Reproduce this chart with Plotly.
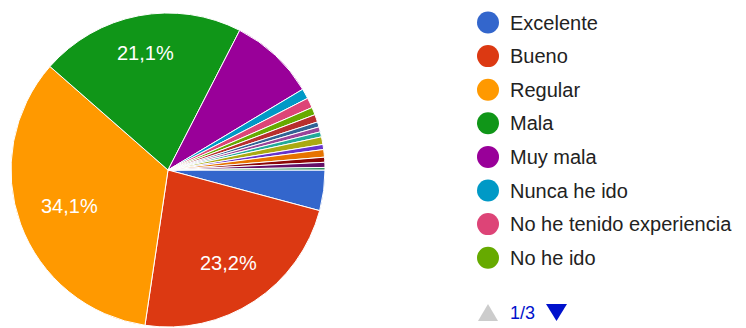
import math
import plotly.graph_objects as go

# Responses per answer (384 in total)
labels = [
    "Excelente", "Bueno", "Regular", "Mala", "Muy mala",
    "Nunca he ido", "No he tenido experiencia", "No he ido",
    "No sé", "No he asistido", "Nunca", "No lo conozco", "Ninguna",
    "No aplica", "No he ido nunca", "No la he usado", "No tengo opinión", "No asisto",
]
counts = [16, 89, 131, 81, 34, 4, 4, 3, 3, 2, 2, 2, 3, 2, 3, 2, 2, 1]
colors = [
    "#3366cc", "#dc3912", "#ff9900", "#109618", "#990099", "#0099c6", "#dd4477",
    "#66aa00", "#b82e2e", "#316395", "#994499", "#22aa99", "#aaaa11", "#6633cc",
    "#e67300", "#8b0707", "#651067", "#329262",
]
page_size = 8
page_label = "1/3"

W, H = 746, 328
FONT = "Liberation Sans, Arial, sans-serif"
LABEL_SIZE = 20

total = sum(counts)
pct = [c / total * 100 for c in counts]

# Pie placement in pixels; first slice starts at 3 o'clock, going clockwise
cx, cy, r = 168, 170, 157
start_deg = 0.0

fig = go.Figure(go.Pie(
    labels=labels,
    values=counts,
    textinfo="none",
    marker=dict(colors=colors, line=dict(color="white", width=1)),
    sort=False,
    direction="clockwise",
    rotation=90,
    showlegend=False,
    domain=dict(x=[(cx - r) / W, (cx + r) / W], y=[1 - (cy + r) / H, 1 - (cy - r) / H]),
))


def px_x(x):
    return x / W


def px_y(y):
    return 1 - y / H


# Approximate Arial advance widths (em) for the label characters
CHAR_EM = {",": 0.278, "%": 0.889, ".": 0.278}


def text_width(s, size):
    return sum(CHAR_EM.get(ch, 0.556) for ch in s) * size


shapes = []
annotations = []

# Percentage labels: placed on the slice's mid-angle ray so that the
# outermost corner of the label box sits at a fixed fraction of the radius
corner_r = 0.866 * r
cum = 0
for c, p in zip(counts, pct):
    mid = start_deg + (cum + c / 2) / total * 360
    cum += c
    if p < 15:
        continue
    txt = f"{p:.1f}".replace(".", ",") + "%"
    w = text_width(txt, LABEL_SIZE) + 2
    h = 0.9 * LABEL_SIZE
    ca, sa = math.cos(math.radians(mid)), math.sin(math.radians(mid))
    b = w * abs(ca) + h * abs(sa)
    k = (w * w + h * h) / 4 - corner_r ** 2
    t = (-b + math.sqrt(b * b - 4 * k)) / 2
    tx, ty = cx + t * ca, cy + t * sa
    annotations.append(dict(
        text=txt, xref="paper", yref="paper",
        x=px_x(tx), y=px_y(ty), xanchor="center", yanchor="middle",
        showarrow=False, font=dict(family=FONT, size=LABEL_SIZE, color="white"),
    ))

# Legend, first page
row0, row_step = 22.5, 33.6
dot_x, dot_r, text_x = 488, 11, 508
for i in range(page_size):
    yc = row0 + i * row_step
    shapes.append(dict(
        type="circle", xref="paper", yref="paper",
        x0=px_x(dot_x - dot_r), x1=px_x(dot_x + dot_r),
        y0=px_y(yc + dot_r), y1=px_y(yc - dot_r),
        fillcolor=colors[i], line=dict(width=0),
    ))
    annotations.append(dict(
        text=labels[i], xref="paper", yref="paper",
        x=px_x(text_x), y=px_y(yc), xanchor="left", yanchor="middle",
        showarrow=False, font=dict(family=FONT, size=20, color="#222222"),
    ))

# Pager: previous (disabled), page number, next
py = 313
shapes.append(dict(
    type="path", xref="paper", yref="paper",
    path=(f"M {px_x(478)} {px_y(py + 8)} L {px_x(498)} {px_y(py + 8)} "
          f"L {px_x(488)} {px_y(py - 9)} Z"),
    fillcolor="#cccccc", line=dict(width=0),
))
shapes.append(dict(
    type="path", xref="paper", yref="paper",
    path=(f"M {px_x(546)} {px_y(py - 9)} L {px_x(567)} {px_y(py - 9)} "
          f"L {px_x(556.5)} {px_y(py + 8)} Z"),
    fillcolor="#0011cc", line=dict(width=0),
))
annotations.append(dict(
    text=page_label, xref="paper", yref="paper",
    x=px_x(508), y=px_y(py), xanchor="left", yanchor="middle",
    showarrow=False, font=dict(family=FONT, size=18, color="#0011cc"),
))

fig.update_layout(
    width=W, height=H,
    margin=dict(l=0, r=0, t=0, b=0),
    paper_bgcolor="white", plot_bgcolor="white",
    shapes=shapes, annotations=annotations,
)

fig.write_html("out.html")
